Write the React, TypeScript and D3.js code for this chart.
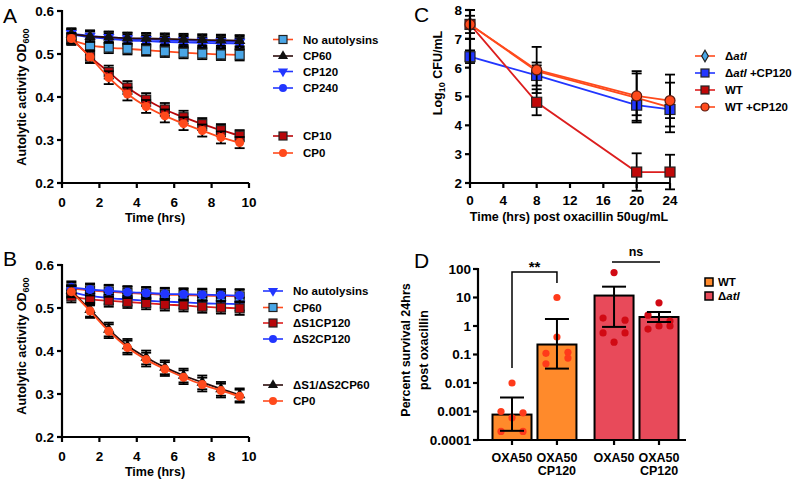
import React from 'react';
import * as d3 from 'd3';

const FONT = '"Liberation Sans", Arial, Helvetica, sans-serif';

// colours used across the figure
const ORANGE = '#ff4a1c';
const DARKRED = '#b8060a';
const RED = '#dc1e1e';
const BLUE = '#2236ff';
const LIGHTBLUE = '#4aa6e6';
const BROWN = '#2b0c0c';

// ---- panel A / B: autolysis time course (OD600) ----
const hours = [0.5, 1.5, 2.5, 3.5, 4.5, 5.5, 6.5, 7.5, 8.5, 9.5];

const aNoAutolysins = [0.533, 0.52, 0.515, 0.512, 0.509, 0.506, 0.503, 0.501, 0.499, 0.498];
const aCP60 = [0.546, 0.541, 0.539, 0.537, 0.536, 0.535, 0.534, 0.533, 0.532, 0.531];
const aCP120 = [0.548, 0.542, 0.539, 0.536, 0.534, 0.532, 0.531, 0.53, 0.529, 0.528];
const aCP240 = [0.545, 0.539, 0.535, 0.532, 0.53, 0.528, 0.527, 0.526, 0.525, 0.524];
const aCP10 = [0.537, 0.494, 0.458, 0.422, 0.394, 0.371, 0.353, 0.337, 0.323, 0.31];
const aCP0 = [0.536, 0.493, 0.445, 0.407, 0.378, 0.356, 0.338, 0.322, 0.306, 0.294];
const aFlatErr = [0.012, 0.013, 0.013, 0.013, 0.013, 0.013, 0.013, 0.013, 0.013, 0.013];
const aLysisErr = [0.012, 0.014, 0.015, 0.015, 0.015, 0.015, 0.015, 0.014, 0.014, 0.013];

const bNoAutolysins = [0.537, 0.528, 0.523, 0.52, 0.517, 0.515, 0.513, 0.511, 0.51, 0.509];
const bCP60 = [0.545, 0.541, 0.538, 0.535, 0.533, 0.531, 0.53, 0.529, 0.528, 0.527];
const bS1CP120 = [0.527, 0.52, 0.517, 0.514, 0.511, 0.508, 0.506, 0.503, 0.501, 0.499];
const bS2CP120 = [0.548, 0.543, 0.54, 0.537, 0.535, 0.533, 0.532, 0.531, 0.53, 0.529];
const bS1S2CP60 = [0.54, 0.496, 0.45, 0.412, 0.385, 0.362, 0.343, 0.327, 0.312, 0.298];
const bCP0 = [0.538, 0.493, 0.446, 0.408, 0.38, 0.358, 0.339, 0.322, 0.308, 0.295];
const bFlatErr = [0.014, 0.014, 0.014, 0.014, 0.014, 0.014, 0.014, 0.014, 0.014, 0.015];
const bLysisErr = [0.013, 0.016, 0.016, 0.016, 0.016, 0.016, 0.016, 0.016, 0.016, 0.015];

const odTicks = [0.2, 0.3, 0.4, 0.5, 0.6];
const hourTicks = [0, 2, 4, 6, 8, 10];

// ---- panel C: CFU after oxacillin ----
const cHours = [0, 8, 20, 24];
const cAtl = [7.5, 5.88, 4.95, 4.62];
const cAtlErr = [0.3, 0.3, 0.85, 0.86];
const cAtlCP120 = [6.38, 5.73, 4.7, 4.55];
const cAtlCP120Err = [0.22, 0.35, 0.35, 0.3];
const cWT = [7.5, 4.8, 2.38, 2.38];
const cWTErr = [0.5, 0.45, 0.65, 0.6];
const cWTCP120 = [7.5, 5.92, 5.02, 4.86];
const cWTCP120Err = [0.5, 0.8, 0.86, 0.9];
const cfuTicks = [2, 3, 4, 5, 6, 7, 8];
const cHourTicks = [0, 4, 8, 12, 16, 20, 24];

// ---- panel D: percent survival at 24 hrs ----
const dLabels = [['OXA50'], ['OXA50', 'CP120'], ['OXA50'], ['OXA50', 'CP120']];
const dStrain = ['WT', 'WT', 'atl', 'atl'];
const dMean = [0.00078, 0.224, 11.7, 2.07];
const dLow = [0.00021, 0.032, 0.93, 1.38];
const dHigh = [0.0031, 1.76, 24, 3.1];
const dPoints = [
  [0.01, 0.001, 0.0009, 0.0006, 0.0002, 0.0002],
  [10, 0.41, 0.11, 0.12, 0.075, 0.047],
  [75, 1.9, 1.6, 0.57, 0.57, 0.27],
  [6.5, 2.4, 1.5, 0.78, 1.0, 1.0],
];
const dTicks = [0.0001, 0.001, 0.01, 0.1, 1, 10, 100];
const dTickLabels = ['0.0001', '0.001', '0.01', '0.1', '1', '10', '100'];

// horizontal spread of the replicate dots (in units of dot spacing)
const dotJitter = [
  [0, -1, 1, 0, -1, 1],
  [0, 0, -1, 1, 1, -1],
  [0, -1, 1, -1, 1, 0],
  [0, -1, 1, -1, 0, 1],
];
const barSlots = [0, 1, 2.27, 3.27];

const Marker = ({ shape, x, y, fill, stroke = 'none', size = 9 }: any) => {
  if (shape === 'square') {
    return <rect x={x - size / 2} y={y - size / 2} width={size} height={size} fill={fill} stroke={stroke} strokeWidth={1.2} />;
  }
  if (shape === 'circle') {
    return <circle cx={x} cy={y} r={size / 2} fill={fill} stroke={stroke} strokeWidth={1.2} />;
  }
  const sym = shape === 'diamond' ? d3.symbolDiamond : d3.symbolTriangle;
  const area = shape === 'diamond' ? size * size * 0.6 : size * size * 0.7;
  const rot = shape === 'triangleDown' ? 180 : 0;
  return (
    <path
      d={d3.symbol().type(sym).size(area)() || ''}
      transform={`translate(${x},${y}) rotate(${rot})`}
      fill={fill}
      stroke={stroke}
      strokeWidth={1.2}
    />
  );
};

const ErrorBar = ({ x, y0, y1, cap = 10, width = 1.8 }: any) => (
  <g stroke="#000" strokeWidth={width} fill="none">
    <line x1={x} x2={x} y1={y0} y2={y1} />
    <line x1={x - cap / 2} x2={x + cap / 2} y1={y0} y2={y0} />
    <line x1={x - cap / 2} x2={x + cap / 2} y1={y1} y2={y1} />
  </g>
);

const LegendRow = ({ x, y, line, shape, fill, stroke, label }: any) => (
  <g>
    <line x1={x} x2={x + 20} y1={y} y2={y} stroke={line} strokeWidth={1.6} />
    <Marker shape={shape} x={x + 10} y={y} fill={fill} stroke={stroke} size={8} />
    <text x={x + 30} y={y} dy="0.36em" fontSize={11.5} fontWeight="bold" fontFamily={FONT}>{label}</text>
  </g>
);

const AtlLabel = ({ suffix = '' }: any) => (
  <>
    Δ<tspan fontStyle="italic">atl</tspan>{suffix}
  </>
);

// y axis with tick labels
const LeftAxis = ({ scale, ticks, x, format, labelGap = 8 }: any) => {
  const [r0, r1] = scale.range();
  return (
    <g>
      <line x1={x} x2={x} y1={Math.max(r0, r1) + 1} y2={Math.min(r0, r1) - 1} stroke="#000" strokeWidth={2.2} />
      {ticks.map((t: number, i: number) => (
        <g key={i}>
          <line x1={x - 5} x2={x} y1={scale(t)} y2={scale(t)} stroke="#000" strokeWidth={2.2} />
          <text x={x - labelGap} y={scale(t)} dy="0.36em" textAnchor="end" fontSize={13.5} fontWeight="bold" fontFamily={FONT}>
            {format ? format(t, i) : t}
          </text>
        </g>
      ))}
    </g>
  );
};

const BottomAxis = ({ scale, ticks, y, x0, x1, labelY }: any) => (
  <g>
    <line x1={x0 - 1} x2={x1} y1={y} y2={y} stroke="#000" strokeWidth={2.2} />
    {ticks.map((t: number, i: number) => (
      <g key={i}>
        <line x1={scale(t)} x2={scale(t)} y1={y} y2={y + 5} stroke="#000" strokeWidth={2.2} />
        <text x={scale(t)} y={labelY} textAnchor="middle" fontSize={13.5} fontWeight="bold" fontFamily={FONT}>{t}</text>
      </g>
    ))}
  </g>
);

const makeSeries = ({ xs, ys, err, xScale, yScale, line, shape, fill, stroke, curve, cap = 10, size = 9 }: any) => {
  const path = d3
    .line<number>()
    .x((_, i) => xScale(xs[i]))
    .y((d) => yScale(d))
    .curve(curve)(ys);
  return { path, line, xs, ys, err, xScale, yScale, shape, fill, stroke, cap, size };
};

// each data set is drawn in turn: error bars, connecting line, markers
const SeriesGroup = ({ series }: any) => (
  <g>
    {series.map((s: any, k: number) => (
      <g key={k}>
        {s.ys.map((v: number, i: number) => (
          <ErrorBar key={i} x={s.xScale(s.xs[i])} y0={s.yScale(v - s.err[i])} y1={s.yScale(v + s.err[i])} cap={s.cap} />
        ))}
        <path d={s.path || ''} fill="none" stroke={s.line} strokeWidth={1.8} />
        {s.ys.map((v: number, i: number) => (
          <Marker key={i} shape={s.shape} x={s.xScale(s.xs[i])} y={s.yScale(v)} fill={s.fill} stroke={s.stroke} size={s.size} />
        ))}
      </g>
    ))}
  </g>
);

const PanelLetter = ({ x, y, children }: any) => (
  <text x={x} y={y} fontSize={21} fontFamily={FONT}>{children}</text>
);

const App = () => {
  // panel A
  const xA = d3.scaleLinear().domain([0, 10]).range([62, 249]);
  const yA = d3.scaleLinear().domain([0.2, 0.6]).range([183, 11]);
  const curve = d3.curveMonotoneX;
  const seriesA = [
    makeSeries({ xs: hours, ys: aCP240, err: aFlatErr, xScale: xA, yScale: yA, line: BLUE, shape: 'circle', fill: BLUE, curve }),
    makeSeries({ xs: hours, ys: aCP120, err: aFlatErr, xScale: xA, yScale: yA, line: BLUE, shape: 'triangleDown', fill: BLUE, curve }),
    makeSeries({ xs: hours, ys: aNoAutolysins, err: aFlatErr, xScale: xA, yScale: yA, line: ORANGE, shape: 'square', fill: LIGHTBLUE, stroke: '#222', curve }),
    makeSeries({ xs: hours, ys: aCP60, err: aFlatErr, xScale: xA, yScale: yA, line: BROWN, shape: 'triangle', fill: '#111', curve }),
    makeSeries({ xs: hours, ys: aCP10, err: aLysisErr, xScale: xA, yScale: yA, line: DARKRED, shape: 'square', fill: DARKRED, stroke: '#222', curve }),
    makeSeries({ xs: hours, ys: aCP0, err: aLysisErr, xScale: xA, yScale: yA, line: ORANGE, shape: 'circle', fill: ORANGE, curve }),
  ];

  // panel B
  const yB = d3.scaleLinear().domain([0.2, 0.6]).range([437, 265]);
  const seriesB = [
    makeSeries({ xs: hours, ys: bCP60, err: bFlatErr, xScale: xA, yScale: yB, line: ORANGE, shape: 'square', fill: LIGHTBLUE, stroke: '#222', curve }),
    makeSeries({ xs: hours, ys: bNoAutolysins, err: bFlatErr, xScale: xA, yScale: yB, line: BLUE, shape: 'triangleDown', fill: BLUE, curve }),
    makeSeries({ xs: hours, ys: bS1CP120, err: bFlatErr, xScale: xA, yScale: yB, line: RED, shape: 'square', fill: DARKRED, stroke: '#222', curve }),
    makeSeries({ xs: hours, ys: bS2CP120, err: bFlatErr, xScale: xA, yScale: yB, line: BLUE, shape: 'circle', fill: BLUE, curve }),
    makeSeries({ xs: hours, ys: bS1S2CP60, err: bLysisErr, xScale: xA, yScale: yB, line: BROWN, shape: 'triangle', fill: '#111', curve }),
    makeSeries({ xs: hours, ys: bCP0, err: bLysisErr, xScale: xA, yScale: yB, line: ORANGE, shape: 'circle', fill: ORANGE, curve }),
  ];

  // panel C
  const xC = d3.scaleLinear().domain([0, 24]).range([470, 670]);
  const yC = d3.scaleLinear().domain([2, 8]).range([183, 10]);
  const lin = d3.curveLinear;
  const seriesC = [
    makeSeries({ xs: cHours, ys: cAtl, err: cAtlErr, xScale: xC, yScale: yC, line: ORANGE, shape: 'diamond', fill: LIGHTBLUE, stroke: '#222', curve: lin, size: 10 }),
    makeSeries({ xs: cHours, ys: cAtlCP120, err: cAtlCP120Err, xScale: xC, yScale: yC, line: BLUE, shape: 'square', fill: BLUE, stroke: '#222', curve: lin, size: 10 }),
    makeSeries({ xs: cHours, ys: cWT, err: cWTErr, xScale: xC, yScale: yC, line: RED, shape: 'square', fill: '#c00808', stroke: '#222', curve: lin, size: 10 }),
    makeSeries({ xs: cHours, ys: cWTCP120, err: cWTCP120Err, xScale: xC, yScale: yC, line: ORANGE, shape: 'circle', fill: ORANGE, stroke: '#5a1a10', curve: lin, size: 10 }),
  ];

  // panel D
  const yD = d3.scaleLog().domain([0.0001, 100]).range([440, 269]);
  const xD = d3.scaleLinear().domain([0, 3.27]).range([512, 659]);
  const barW = 39;
  const barFill = (i: number) => (dStrain[i] === 'WT' ? '#ff8a2b' : '#e84a5a');
  const dotFill = (i: number) => (dStrain[i] === 'WT' ? '#ff3a1a' : '#d10a14');

  return (
    <svg width={792} height={480} style={{ position: 'absolute', left: 0, top: 0, background: '#fff' }} fontFamily={FONT}>
      {/* ---------- A ---------- */}
      <PanelLetter x={3} y={23}>A</PanelLetter>
      <SeriesGroup series={seriesA} />
      <LeftAxis scale={yA} ticks={odTicks} x={62} />
      <BottomAxis scale={xA} ticks={hourTicks} y={183} x0={62} x1={249} labelY={207} />
      <text x={155} y={222} textAnchor="middle" fontSize={12.5} fontWeight="bold">Time (hrs)</text>
      <text transform="translate(26,97) rotate(-90)" textAnchor="middle" fontSize={12.5} fontWeight="bold">
        Autolytic activity OD<tspan fontSize={9} dy={3}>600</tspan>
      </text>
      <LegendRow x={273} y={39.5} line={ORANGE} shape="square" fill={LIGHTBLUE} stroke="#222" label="No autolysins" />
      <LegendRow x={273} y={56} line={BROWN} shape="triangle" fill="#111" label="CP60" />
      <LegendRow x={273} y={71.5} line={BLUE} shape="triangleDown" fill={BLUE} label="CP120" />
      <LegendRow x={273} y={88} line={BLUE} shape="circle" fill={BLUE} label="CP240" />
      <LegendRow x={273} y={136} line={DARKRED} shape="square" fill={DARKRED} stroke="#222" label="CP10" />
      <LegendRow x={273} y={153} line={ORANGE} shape="circle" fill={ORANGE} label="CP0" />

      {/* ---------- B ---------- */}
      <PanelLetter x={3} y={266}>B</PanelLetter>
      <SeriesGroup series={seriesB} />
      <LeftAxis scale={yB} ticks={odTicks} x={62} />
      <BottomAxis scale={xA} ticks={hourTicks} y={437} x0={62} x1={249} labelY={461} />
      <text x={155} y={476} textAnchor="middle" fontSize={12.5} fontWeight="bold">Time (hrs)</text>
      <text transform="translate(26,346) rotate(-90)" textAnchor="middle" fontSize={12.5} fontWeight="bold">
        Autolytic activity OD<tspan fontSize={9} dy={3}>600</tspan>
      </text>
      <LegendRow x={263} y={291} line={BLUE} shape="triangleDown" fill={BLUE} label="No autolysins" />
      <LegendRow x={263} y={307.5} line={ORANGE} shape="square" fill={LIGHTBLUE} stroke="#222" label="CP60" />
      <LegendRow x={263} y={323} line={RED} shape="square" fill={DARKRED} stroke="#222" label="ΔS1CP120" />
      <LegendRow x={263} y={339} line={BLUE} shape="circle" fill={BLUE} label="ΔS2CP120" />
      <LegendRow x={263} y={385} line={BROWN} shape="triangle" fill="#111" label="ΔS1/ΔS2CP60" />
      <LegendRow x={263} y={401} line={ORANGE} shape="circle" fill={ORANGE} label="CP0" />

      {/* ---------- C ---------- */}
      <PanelLetter x={414} y={22}>C</PanelLetter>
      <SeriesGroup series={seriesC} />
      <LeftAxis scale={yC} ticks={cfuTicks} x={470} />
      <BottomAxis scale={xC} ticks={cHourTicks} y={183} x0={470} x1={670} labelY={205} />
      <text x={569} y={221} textAnchor="middle" fontSize={12.5} fontWeight="bold">Time (hrs) post oxacillin 50ug/mL</text>
      <text transform="translate(442,73) rotate(-90)" textAnchor="middle" fontSize={12.5} fontWeight="bold">
        Log<tspan fontSize={9} dy={3}>10</tspan><tspan dy={-3}> CFU/mL</tspan>
      </text>
      <LegendRow x={695} y={56} line={ORANGE} shape="diamond" fill={LIGHTBLUE} stroke="#222" label={<AtlLabel />} />
      <LegendRow x={695} y={73} line={BLUE} shape="square" fill={BLUE} stroke="#222" label={<AtlLabel suffix=" +CP120" />} />
      <LegendRow x={695} y={90} line={RED} shape="square" fill="#c00808" stroke="#222" label="WT" />
      <LegendRow x={695} y={107} line={ORANGE} shape="circle" fill={ORANGE} stroke="#5a1a10" label="WT +CP120" />

      {/* ---------- D ---------- */}
      <PanelLetter x={414} y={268}>D</PanelLetter>
      {dMean.map((m, i) => {
        const cx = xD(barSlots[i]);
        return (
          <g key={i}>
            <rect x={cx - barW / 2} y={yD(m)} width={barW} height={yD(0.0001) - yD(m)} fill={barFill(i)} stroke="#000" strokeWidth={2} />
            {dPoints[i].map((p, j) => (
              <circle key={j} cx={cx + dotJitter[i][j] * 11} cy={yD(p)} r={3.6} fill={dotFill(i)} />
            ))}
            <ErrorBar x={cx} y0={yD(dLow[i])} y1={yD(dHigh[i])} cap={24} width={2} />
            <line x1={cx} x2={cx} y1={440} y2={445} stroke="#000" strokeWidth={2.2} />
            {dLabels[i].map((l, j) => (
              <text key={j} x={cx} y={462 + j * 13} textAnchor="middle" fontSize={12.5} fontWeight="bold">{l}</text>
            ))}
          </g>
        );
      })}
      <LeftAxis scale={yD} ticks={dTicks} x={478} labelGap={7} format={(_: number, i: number) => dTickLabels[i]} />
      <line x1={477} x2={686} y1={440} y2={440} stroke="#000" strokeWidth={2.2} />
      {/* significance markers */}
      <path d={`M${xD(0)},368 V272 H${xD(1)} V283`} fill="none" stroke="#000" strokeWidth={1.5} />
      <text x={(xD(0) + xD(1)) / 2} y={272} textAnchor="middle" fontSize={15} fontWeight="bold">**</text>
      <line x1={612} x2={660} y1={262} y2={262} stroke="#000" strokeWidth={1.5} />
      <text x={636} y={256} textAnchor="middle" fontSize={12.5} fontWeight="bold">ns</text>
      <text transform="translate(410,350) rotate(-90)" textAnchor="middle" fontSize={12.5} fontWeight="bold">Percent survival 24hrs</text>
      <text transform="translate(428,350) rotate(-90)" textAnchor="middle" fontSize={12.5} fontWeight="bold">post oxacillin</text>
      <rect x={705} y={278} width={8} height={8} fill="#ff8a2b" stroke="#000" strokeWidth={1.5} />
      <text x={718} y={282} dy="0.36em" fontSize={11.5} fontWeight="bold">WT</text>
      <rect x={705} y={292} width={8} height={8} fill="#e84a5a" stroke="#000" strokeWidth={1.5} />
      <text x={718} y={296} dy="0.36em" fontSize={11.5} fontWeight="bold"><AtlLabel /></text>
    </svg>
  );
};

export default App;
